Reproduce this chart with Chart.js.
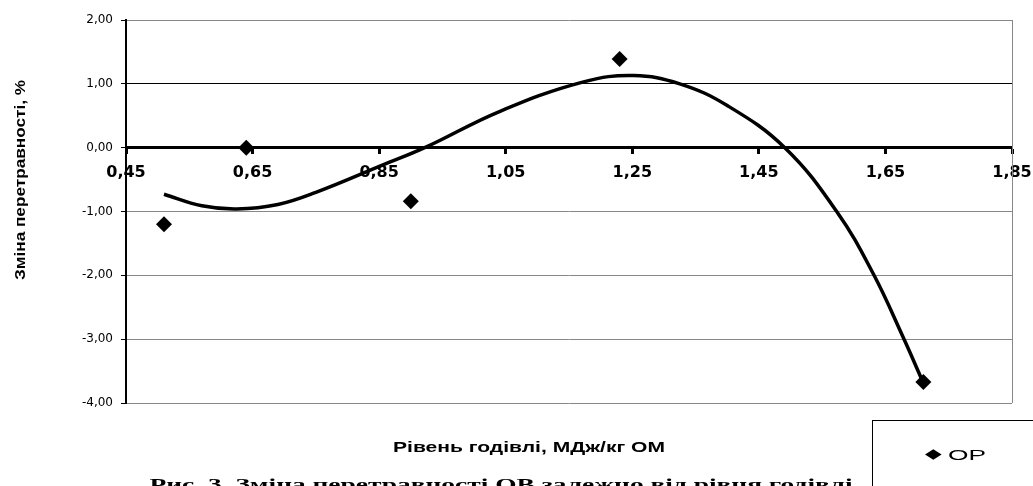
<!DOCTYPE html>
<html>
<head>
<meta charset="utf-8">
<script src="https://cdn.jsdelivr.net/npm/chart.js@4.4.1/dist/chart.umd.min.js"></script>
<style>
  body { margin: 0; background: #fff; }
  #wrap { width: 1033px; height: 486px; position: relative; }
</style>
</head>
<body>
<div id="wrap"><canvas id="digestChart"></canvas></div>
<script>
// measured points (feeding level, change of digestibility)
const feedLevel = [0.51, 0.64, 0.90, 1.23, 1.71];
const digestChange = [-1.20, 0.00, -0.84, 1.39, -3.67];

// polynomial trendline
const trendX = [0.51, 0.57, 0.625, 0.69, 0.75, 0.856, 0.922, 1.041, 1.173, 1.252, 1.325, 1.40, 1.491, 1.573, 1.631, 1.678, 1.707];
const trendY = [-0.73, -0.91, -0.96, -0.89, -0.70, -0.27, 0.00, 0.57, 1.03, 1.13, 1.00, 0.66, 0.00, -1.00, -1.98, -2.97, -3.62];

const xTicks = [0.45, 0.65, 0.85, 1.05, 1.25, 1.45, 1.65, 1.85];
const yTicks = [-4, -3, -2, -1, 0, 1, 2];

const xTitle = "Рівень годівлі, МДж/кг ОМ";
const yTitle = "Зміна перетравності, %";
const caption = "Рис. 3. Зміна перетравності ОВ залежно від рівня годівлі";
const seriesName = "ОР";

const comma = (v) => v.toFixed(2).replace(".", ",");

// draw text squeezed/stretched to a given width
function fitText(ctx, text, cx, cy, width, font, rotate) {
  ctx.save();
  ctx.font = font;
  const w = ctx.measureText(text).width;
  ctx.translate(cx, cy);
  if (rotate) ctx.rotate(-Math.PI / 2);
  ctx.scale(width / w, 1);
  ctx.textAlign = "center";
  ctx.fillStyle = "#000";
  ctx.fillText(text, 0, 0);
  ctx.restore();
}

const decor = {
  id: "decor",
  afterDraw(chart) {
    const ctx = chart.ctx;
    const a = chart.chartArea;

    // right frame line
    ctx.save();
    ctx.strokeStyle = "#888";
    ctx.lineWidth = 1;
    ctx.beginPath();
    ctx.moveTo(a.right + 0.5, a.top);
    ctx.lineTo(a.right + 0.5, a.bottom);
    ctx.stroke();
    ctx.restore();

    // axis titles and caption
    ctx.save();
    ctx.textBaseline = "alphabetic";
    fitText(ctx, xTitle, 529, 451.5, 272, "bold 15px 'Liberation Sans'");
    fitText(ctx, caption, 501, 490, 703, "bold 16px 'Liberation Serif'");
    ctx.textBaseline = "middle";
    fitText(ctx, yTitle, 21, 180, 200, "bold 14px 'Liberation Sans'", true);
    ctx.restore();

    // legend box
    ctx.save();
    ctx.strokeStyle = "#000";
    ctx.lineWidth = 1;
    ctx.strokeRect(872.5, 420.5, 200, 100);
    ctx.fillStyle = "#000";
    ctx.beginPath();
    ctx.moveTo(925, 454.5);
    ctx.lineTo(933.3, 449.2);
    ctx.lineTo(941.6, 454.5);
    ctx.lineTo(933.3, 459.8);
    ctx.closePath();
    ctx.fill();
    ctx.textBaseline = "alphabetic";
    ctx.font = "15px 'Liberation Sans'";
    const w = ctx.measureText(seriesName).width;
    ctx.translate(948, 459.5);
    ctx.scale(38 / w, 1);
    ctx.textAlign = "left";
    ctx.fillText(seriesName, 0, 0);
    ctx.restore();
  }
};

new Chart(document.getElementById("digestChart"), {
  type: "scatter",
  data: {
    datasets: [
      {
        label: seriesName,
        data: feedLevel.map((x, i) => ({ x: x, y: digestChange[i] })),
        pointStyle: "rectRot",
        pointRadius: 8,
        pointHoverRadius: 8,
        backgroundColor: "#000",
        borderColor: "#000",
        borderWidth: 0,
      },
      {
        label: "trend",
        data: trendX.map((x, i) => ({ x: x, y: trendY[i] })),
        showLine: true,
        pointRadius: 0,
        borderColor: "#000",
        borderWidth: 3.5,
        tension: 0.4,
      },
    ],
  },
  options: {
    responsive: true,
    maintainAspectRatio: false,
    animation: false,
    layout: { padding: { left: 0, right: 21, top: 20, bottom: 83 } },
    plugins: {
      legend: { display: false },
      tooltip: { enabled: false },
    },
    scales: {
      x: {
        type: "linear",
        position: { y: 0 },
        min: 0.45,
        max: 1.85,
        afterBuildTicks: (scale) => {
          scale.ticks = xTicks.map((v) => ({ value: v }));
        },
        afterFit: (scale) => {
          scale.paddingLeft = 0;
          scale.paddingRight = 0;
        },
        grid: {
          drawOnChartArea: false,
          drawTicks: true,
          tickLength: 5,
          tickWidth: 3,
          tickColor: "#000",
        },
        border: { display: true, color: "#000", width: 3 },
        ticks: {
          autoSkip: false,
          maxRotation: 0,
          padding: 11,
          color: "#000",
          font: { family: "'DejaVu Sans'", size: 16, weight: "bold" },
          callback: (v) => comma(v),
        },
      },
      y: {
        type: "linear",
        min: -4,
        max: 2,
        afterBuildTicks: (scale) => {
          scale.ticks = yTicks.map((v) => ({ value: v }));
        },
        afterFit: (scale) => {
          scale.width = 126;
        },
        grid: {
          color: (c) => (c.tick && c.tick.value === 0 ? "rgba(0,0,0,0)" : c.tick && c.tick.value === 1 ? "#000" : "#888"),
          lineWidth: 1,
          tickLength: 5,
          tickColor: "#000",
        },
        border: { display: true, color: "#000", width: 2 },
        ticks: {
          padding: 8,
          color: "#000",
          font: { family: "'DejaVu Sans'", size: 12 },
          callback: (v) => comma(v),
        },
      },
    },
  },
  plugins: [decor],
});
</script>
</body>
</html>
